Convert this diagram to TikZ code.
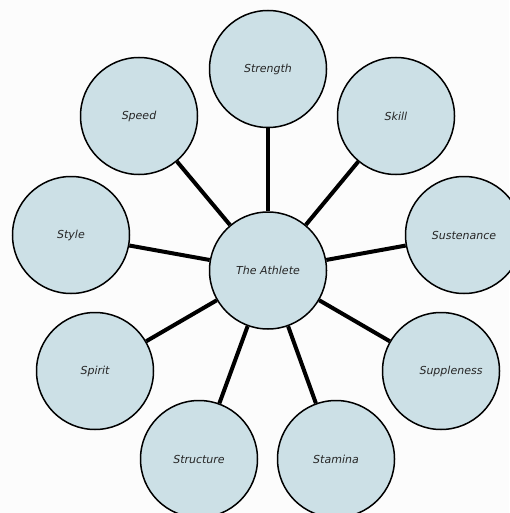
\documentclass[tikz,border=0pt]{standalone}
\usepackage{fontspec}
\setmainfont{DejaVu Sans}
\begin{document}
\begin{tikzpicture}[x=1pt,y=-1pt,
  bubble/.style={circle, draw=black, line width=1.5pt, fill=bubblefill, minimum size=117pt, inner sep=0pt, font=\fontsize{11}{13}\selectfont\itshape, text=black!85},
  spoke/.style={line width=4pt, draw=black}]
\definecolor{bubblefill}{HTML}{CCE0E6}
\definecolor{bg}{HTML}{FCFCFC}
\fill[bg] (0,0) rectangle (509,513);
\useasboundingbox (0,0) rectangle (509,513);
\node[bubble] (c) at (268,270.5) {The Athlete};
\node[bubble] (strength) at (268,69) {Strength};
\node[bubble] (skill) at (396,116) {Skill};
\node[bubble] (sust) at (464,235) {Sustenance};
\node[bubble] (supp) at (441,371) {\hspace*{20pt}Suppleness};
\node[bubble] (stamina) at (336,459) {Stamina};
\node[bubble] (struct) at (199,459) {Structure};
\node[bubble] (spirit) at (95,371) {Spirit};
\node[bubble] (style) at (71,235) {Style};
\node[bubble] (speed) at (139,116) {Speed};
\foreach \n in {strength,skill,sust,supp,stamina,struct,spirit,style,speed}
  \draw[spoke] (c) -- (\n);
\end{tikzpicture}
\end{document}
